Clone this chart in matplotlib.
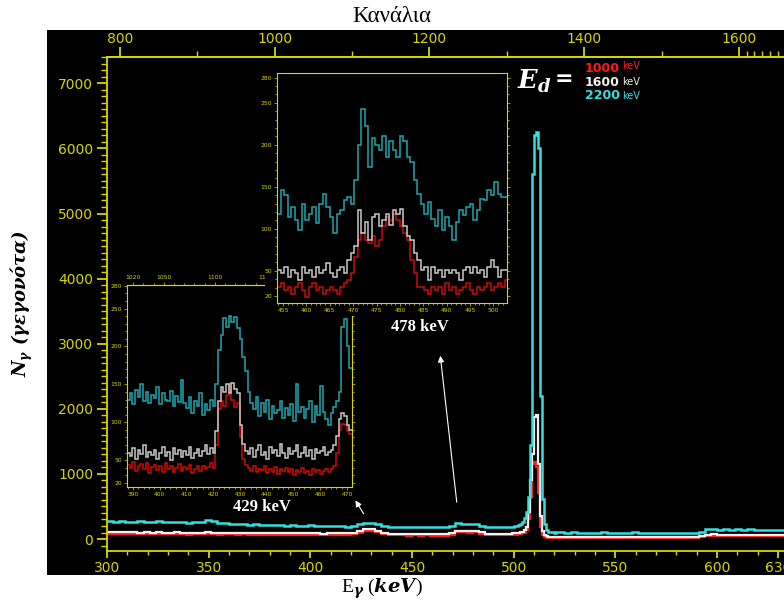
import numpy as np
import matplotlib
matplotlib.use("Agg")
import matplotlib.pyplot as plt
from matplotlib.patches import Rectangle
from matplotlib.ticker import MultipleLocator, FixedLocator

plt.rcParams['mathtext.fontset'] = 'custom'
plt.rcParams['mathtext.rm'] = 'DejaVu Serif'
plt.rcParams['mathtext.it'] = 'DejaVu Serif:italic:bold'
plt.rcParams['mathtext.bf'] = 'DejaVu Serif:bold'

# ---------------- data ----------------
# energy calibration: E[keV] = CAL_OFFSET + CAL_SLOPE * channel
CAL_OFFSET = 1.9
CAL_SLOPE = 0.3806

series_labels = ["1000", "1600", "2200"]

# main spectrum bin edges (keV)
main_edges = np.concatenate([np.arange(300, 498, 3), np.arange(498, 522, 1), np.arange(522, 633.1, 3)])

main_2200 = [
    270, 262, 275, 268, 258, 272, 266, 260, 270, 264, 256, 268, 260, 252, 258,
    262, 285, 270, 248, 240,
    236, 230, 226, 222, 228, 218, 214, 220, 210, 206, 212, 204, 200, 208, 198, 202, 196, 194, 200, 192,
    205, 228, 248, 250, 232, 205,
    190, 186, 192, 184, 188, 180, 186, 182, 178, 184,
    196, 252, 236, 228, 232, 205, 185, 180, 178, 185,
    185, 190, 195, 200, 210, 225, 260, 320, 420, 650, 1450, 5600, 6200, 6250, 6000, 2200,
    620, 230, 140, 115, 108, 104, 100, 102,
    104, 98, 102, 96, 100, 94, 98, 102, 95, 99, 93, 97, 101, 94, 98, 92, 96, 100, 94, 97, 91, 95, 99, 110,
    150, 158, 146, 152, 144, 150, 141, 147, 139, 145, 136, 142, 138,
]
main_1600 = [
    108, 104, 110, 102, 106, 100, 105, 98, 104, 100, 96, 102, 98, 94, 100,
    98, 104, 96, 94, 98,
    95, 92, 97, 90, 94, 91, 88, 93, 90, 86, 91, 88, 85, 90, 87, 84, 88, 85, 90, 86,
    95, 125, 150, 152, 128, 98,
    82, 78, 84, 76, 80, 74, 79, 75, 72, 77,
    88, 130, 126, 122, 128, 104, 84, 80, 78, 82,
    84, 86, 88, 92, 96, 102, 115, 135, 180, 420, 900, 1300, 1880, 1900, 1150, 350,
    120, 60, 40, 34, 32, 30, 31, 29,
    30, 28, 31, 27, 29, 26, 30, 28, 27, 29, 25, 28, 30, 26, 29, 27, 25, 28, 26, 29, 27, 25, 28, 40,
    66, 70, 64, 68, 62, 66, 60, 64, 61, 58, 62, 59, 57,
]
main_1000 = [
    82, 78, 84, 76, 80, 74, 79, 72, 78, 74, 70, 76, 72, 68, 74,
    72, 78, 70, 68, 72,
    70, 66, 71, 64, 68, 65, 62, 67, 64, 60, 65, 62, 59, 64, 61, 58, 62, 59, 63, 60,
    70, 100, 125, 128, 104, 74,
    58, 55, 60, 53, 57, 51, 56, 52, 50, 54,
    64, 104, 102, 98, 104, 82, 62, 58, 56, 60,
    60, 62, 64, 67, 70, 75, 85, 100, 140, 300, 650, 1150, 1180, 1100, 700, 180,
    60, 30, 22, 20, 19, 18, 19, 17,
    18, 16, 19, 15, 17, 16, 18, 15, 17, 16, 14, 17, 18, 15, 17, 16, 14, 17, 15, 17, 16, 14, 17, 28,
    50, 54, 48, 52, 47, 50, 45, 49, 46, 44, 47, 44, 43,
]

# inset around 429 keV (1 keV bins)
in1_edges = np.linspace(387.8, 471.8, 85)
in1_2200 = [
    130, 138, 124, 142, 134, 150, 128, 140, 126, 136,
    132, 146, 124, 138, 130, 128, 141, 122, 135, 127,
    156, 126, 119, 134, 112, 128, 121, 138, 110, 124,
    116, 130, 122,
    150, 195, 215, 238, 226, 240, 232, 239, 224, 210, 186, 168, 140, 126,
    118, 134, 108, 125, 114, 130, 104, 121, 112, 116, 128, 106, 119,
    110, 124, 102, 150, 113, 120, 106, 118, 128, 100,
    122, 109, 148, 114, 104, 96,
    112, 120, 128, 140, 225, 236, 200, 172,
]
in1_1600 = [
    60, 55, 66, 52, 63, 58, 70, 54, 61, 57,
    64, 52, 59, 67, 55, 61, 50, 66, 58, 63,
    54, 62, 57, 68, 53, 60, 65, 56, 62, 70,
    58, 66, 60,
    88, 128, 146, 140, 150, 138, 152, 144, 139, 96, 72, 62,
    58, 66, 54, 63, 70, 57, 61, 52, 68, 59, 64, 55, 72, 60, 53,
    66, 58, 62, 70, 54, 60, 67, 56, 63, 51, 65, 59, 62, 68, 57, 61,
    64, 70, 82, 104, 112, 108, 96, 90,
]
in1_1000 = [
    44, 40, 47, 36, 42, 45, 38, 46, 33, 41,
    44, 37, 42, 35, 46, 39, 43, 34, 40, 45,
    36, 41, 38, 44, 33, 39, 42, 36, 43, 38,
    41, 46, 40,
    70, 118, 128, 122, 136, 151, 130, 120, 126, 80, 52, 44,
    40, 36, 43, 34, 39, 37, 42, 33, 38, 35, 41, 32, 39, 36, 40,
    34, 38, 31, 37, 35, 40, 33, 36, 30, 38, 34, 37, 32, 36, 39, 35,
    38, 42, 60, 90, 98, 96, 88, 84,
]

# inset around 478 keV (0.75 keV bins)
in2_edges = np.linspace(453.7, 453.7 + 66 * 0.75, 67)
in2_2200 = [
    118, 146, 140, 114, 126, 110, 99, 130, 110, 118,
    126, 107, 130, 142, 126, 114, 95, 118, 122, 134,
    138, 130, 158, 200, 243, 222, 174, 208, 200, 194,
    210, 186, 204, 194, 186, 210, 205, 186, 180, 158,
    142, 130, 118, 132, 112, 103, 122, 99, 114, 103,
    87, 108, 122, 116, 126, 130, 110, 122, 136, 134,
    146, 140, 156, 142, 138, 138,
]
in2_1600 = [
    51, 47, 55, 43, 51, 47, 39, 55, 47, 51,
    43, 55, 47, 51, 59, 47, 43, 51, 55, 47,
    63, 71, 79, 122, 95, 108, 87, 114, 118, 103,
    110, 118, 105, 122, 118, 124, 103, 91, 87, 71,
    63, 51, 55, 39, 55, 47, 51, 43, 51, 47,
    51, 47, 39, 51, 55, 47, 55, 47, 51, 43,
    55, 63, 55, 43, 51, 51,
]
in2_1000 = [
    31, 35, 27, 31, 23, 31, 35, 27, 19, 31,
    35, 27, 31, 23, 27, 31, 27, 23, 31, 35,
    39, 47, 67, 87, 95, 87, 83, 91, 79, 87,
    103, 114, 110, 118, 110, 103, 95, 87, 63, 47,
    31, 31, 27, 23, 31, 27, 31, 23, 35, 27,
    31, 23, 27, 31, 35, 27, 23, 31, 27, 31,
    35, 27, 31, 35, 31, 39,
]

main_ticks = [300, 350, 400, 450, 500, 550, 600, 630]
chan_ticks = [800, 1000, 1200, 1400, 1600]
in1_xticks = [390, 400, 410, 420, 430, 440, 450, 460, 470]
in1_chan_ticks = [1020, 1050, 1100, 1150]
in2_xticks = [455, 460, 465, 470, 475, 480, 485, 490, 495, 500]
in2_chan_ticks = [1200, 1220, 1240, 1260, 1280, 1300]
inset_yticks = [20, 50, 100, 150, 200, 250, 280]

# ---------------- style ----------------
YEL = '#d6d600'
MAIN_COL = {"1000": '#ff1a1a', "1600": '#f2f2f2', "2200": '#33e0e0'}
INS_COL = {"1000": '#cc0a0a', "1600": '#c8c8c8', "2200": '#1fa6ad'}


def e2ch(e):
    return (np.asarray(e) - CAL_OFFSET) / CAL_SLOPE


def ch2e(c):
    return CAL_OFFSET + CAL_SLOPE * np.asarray(c)


W, H = 784, 603
fig = plt.figure(figsize=(W / 100, H / 100), dpi=100, facecolor='white')


def fx(px):
    return px / W


def fy(py):
    return 1 - py / H


fig.add_artist(Rectangle((fx(47), fy(575)), fx(784) - fx(47), fy(30) - fy(575),
                         transform=fig.transFigure, facecolor='black', edgecolor='none', zorder=0))

ax = fig.add_axes([fx(107), fy(551), 1 - fx(107), fy(57) - fy(551)])
ax.set_facecolor('black')
ax.set_xlim(300, 633)
ax.set_ylim(-184, 7404)
for key, vals in zip(series_labels, [main_1000, main_1600, main_2200]):
    ax.stairs(vals, main_edges, baseline=None, color=MAIN_COL[key], lw=1.8 if key == "2200" else 1.6)

ax.spines['right'].set_visible(False)
for s in ['left', 'bottom', 'top']:
    ax.spines[s].set_color(YEL)
    ax.spines[s].set_linewidth(1.3)
ax.xaxis.set_major_locator(FixedLocator(main_ticks))
ax.xaxis.set_minor_locator(MultipleLocator(10))
ax.yaxis.set_major_locator(MultipleLocator(1000))
ax.yaxis.set_minor_locator(MultipleLocator(100))
ax.tick_params(which='major', colors=YEL, labelsize=10, length=7, width=1.3, direction='out', pad=3)
ax.tick_params(which='minor', colors=YEL, length=4, width=1.0, direction='out')
ax.tick_params(axis='x', which='major', length=5, pad=2)
ax.tick_params(axis='x', which='minor', length=3)

sec = ax.secondary_xaxis('top', functions=(e2ch, ch2e))
sec.spines['top'].set_color(YEL)
sec.spines['top'].set_linewidth(1.3)
sec.xaxis.set_major_locator(FixedLocator(chan_ticks))
sec.xaxis.set_minor_locator(FixedLocator([900, 1100, 1300, 1500, 1610, 1620, 1630, 1640, 1650]))
sec.tick_params(which='major', colors=YEL, labelsize=10, length=7, width=1.3, direction='out', pad=1)
sec.tick_params(which='minor', colors=YEL, length=4, width=1.0, direction='out')

ax.annotate('', xy=(421.5, 630), xytext=(426.9, 353),
            arrowprops=dict(arrowstyle='-|>', color='white', lw=0.8, mutation_scale=9))
ax.annotate('', xy=(463.8, 2857), xytext=(472.2, 522),
            arrowprops=dict(arrowstyle='-|>', color='white', lw=0.8, mutation_scale=9))


def style_inset(a, xticks, xminor, chan_ticks_list, chan_minor, ylim):
    a.set_facecolor('black')
    a.set_ylim(*ylim)
    for s in a.spines.values():
        s.set_color(YEL)
        s.set_linewidth(0.8)
    a.xaxis.set_major_locator(FixedLocator(xticks))
    a.xaxis.set_minor_locator(MultipleLocator(xminor))
    a.yaxis.set_major_locator(FixedLocator(inset_yticks))
    a.yaxis.set_minor_locator(MultipleLocator(10))
    a.tick_params(which='both', colors=YEL, labelsize=4.3, width=0.5, direction='out', pad=1,
                  right=True)
    a.tick_params(which='major', length=2.5)
    a.tick_params(which='minor', length=1.3)
    s2 = a.secondary_xaxis('top', functions=(e2ch, ch2e))
    s2.spines['top'].set_color(YEL)
    s2.spines['top'].set_linewidth(0.8)
    s2.xaxis.set_major_locator(FixedLocator(chan_ticks_list))
    s2.xaxis.set_minor_locator(MultipleLocator(chan_minor))
    s2.tick_params(which='both', colors=YEL, labelsize=4.3, width=0.5, direction='out', pad=1)
    s2.tick_params(which='major', length=2.5)
    s2.tick_params(which='minor', length=1.3)


ax1 = fig.add_axes([fx(127), fy(487), fx(352) - fx(127), fy(285) - fy(487)])
ax1.set_xlim(in1_edges[0], in1_edges[-1])
for key, vals in zip(series_labels, [in1_1000, in1_1600, in1_2200]):
    ax1.stairs(vals, in1_edges, baseline=None, color=INS_COL[key], lw=1.1)
style_inset(ax1, in1_xticks, 2, in1_chan_ticks, 10, (14.7, 281))

ax2 = fig.add_axes([fx(277), fy(303), fx(507) - fx(277), fy(73) - fy(303)])
ax2.add_patch(Rectangle((fx(265), fy(316)), fx(520) - fx(265), fy(60) - fy(316),
                        transform=fig.transFigure, facecolor='black', edgecolor='none',
                        clip_on=False, zorder=0.1))
ax2.set_xlim(453.7, 502.9)
for key, vals in zip(series_labels, [in2_1000, in2_1600, in2_2200]):
    ax2.stairs(vals, in2_edges, baseline=None, color=INS_COL[key], lw=1.1)
style_inset(ax2, in2_xticks, 1, in2_chan_ticks, 10, (11.7, 285.5))

# labels
fig.text(fx(392), fy(17), "Κανάλια", ha='center', va='center', fontsize=16.5,
         family='Liberation Serif', color='black')
fig.text(fx(382), fy(589), r"E$_\gamma$ ($keV$)", ha='center', va='center', fontsize=14,
         family='Liberation Serif', color='black')
fig.text(fx(22), fy(303), r"$N_\gamma$ (γεγονότα)", ha='center', va='center', fontsize=13,
         family='DejaVu Serif', style='italic', weight='bold', rotation=90, color='black')

fig.text(fx(420), fy(327), "478 keV", ha='center', va='center', fontsize=12,
         family='Liberation Serif', weight='bold', color='white')
fig.text(fx(262), fy(507), "429 keV", ha='center', va='center', fontsize=12,
         family='Liberation Serif', weight='bold', color='white')

fig.text(fx(517), fy(81), r"$E_d$", ha='left', va='center', fontsize=18.5, color='white')
fig.text(fx(555), fy(79), "=", ha='left', va='center', fontsize=16, weight='bold',
         family='DejaVu Sans', color='white')
rows_y = [69, 82, 96]
for key, yy in zip(series_labels, rows_y):
    fig.text(fx(585), fy(yy), key, ha='left', va='center', fontsize=9, weight='bold',
             family='DejaVu Sans', color=MAIN_COL[key])
    fig.text(fx(622), fy(yy - (3 if key == "1000" else 0)), "keV", ha='left', va='center',
             fontsize=7, family='DejaVu Sans', color=MAIN_COL[key])

fig.savefig("out.png", dpi=100, facecolor='white')
